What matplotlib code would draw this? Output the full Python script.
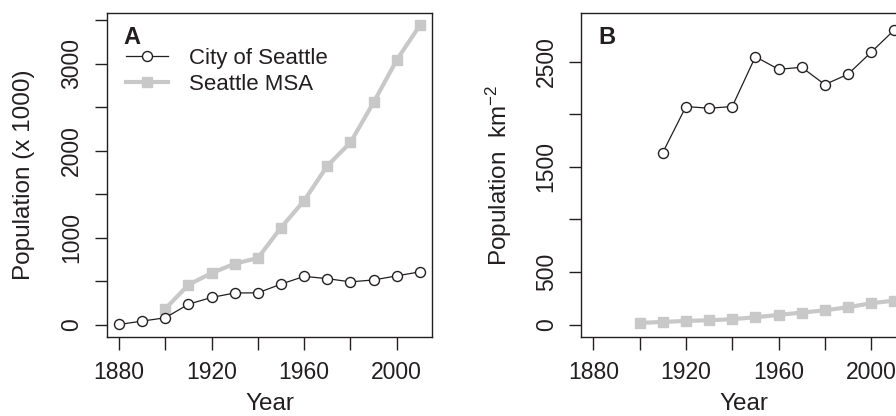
import matplotlib.pyplot as plt
import numpy as np

plt.rcParams['font.family'] = ['Liberation Sans', 'DejaVu Sans']
plt.rcParams['mathtext.fontset'] = 'custom'
plt.rcParams['mathtext.rm'] = 'Liberation Sans'
plt.rcParams['mathtext.it'] = 'Liberation Sans'
plt.rcParams['mathtext.default'] = 'regular'

# census years
years_city = [1880, 1890, 1900, 1910, 1920, 1930, 1940, 1950, 1960, 1970, 1980, 1990, 2000, 2010]
years_msa = [1900, 1910, 1920, 1930, 1940, 1950, 1960, 1970, 1980, 1990, 2000, 2010]

# panel A: population (x 1000)
pop_city = [4, 43, 81, 237, 315, 366, 368, 468, 557, 531, 494, 516, 563, 609]
pop_msa = [184, 461, 595, 703, 768, 1118, 1429, 1828, 2097, 2558, 3046, 3445]

# panel B: population density per km2
dens_years_city = [1910, 1920, 1930, 1940, 1950, 1960, 1970, 1980, 1990, 2000, 2010]
dens_city = [1636, 2073, 2057, 2073, 2547, 2427, 2446, 2282, 2380, 2589, 2801]
dens_msa = [16, 25, 35, 41, 51, 70, 92, 114, 136, 165, 203, 228]

ink = '#231f20'
grey = '#c8c8c8'
fs_tick = 16.5
fs_lab = 17.5
fs_leg = 16

fig = plt.figure(figsize=(8.96, 4.16), dpi=100)
axA = fig.add_axes([0.1194, 0.1899, 0.3627, 0.7788])
axB = fig.add_axes([0.6488, 0.1899, 0.3627, 0.7788])


def style(ax, yticks, ylabels):
    ax.set_xlim(1874.8, 2015.2)
    ax.set_xticks(range(1880, 2001, 20))
    ax.set_xticklabels(['1880', '', '1920', '', '1960', '', '2000'])
    ax.set_yticks(yticks)
    ax.set_yticklabels(ylabels, rotation=90, va='center')
    ax.tick_params(direction='out', length=9, width=1, color=ink,
                   labelsize=fs_tick, labelcolor=ink, pad=8)
    for s in ax.spines.values():
        s.set_color(ink)
        s.set_linewidth(1)
    ax.set_xlabel('Year', fontsize=fs_lab, color=ink, labelpad=6.5)


def draw(ax, ymsa, x_city, ycity):
    ax.plot(years_msa, ymsa, color=grey, lw=3, marker='s', ms=7.5,
            mec=grey, mfc=grey, zorder=2, label='Seattle MSA')
    ax.plot(x_city, ycity, color=ink, lw=0.9, marker='o', ms=7.2,
            mec=ink, mfc='white', mew=1, zorder=3, label='City of Seattle')


# panel A
draw(axA, pop_msa, years_city, pop_city)
axA.set_ylim(-140, 3585)
style(axA, np.arange(0, 3501, 500), ['0', '', '1000', '', '2000', '', '3000', ''])
axA.set_ylabel('Population (x 1000)', fontsize=fs_lab, color=ink, labelpad=18)
axA.text(0.052, 0.96, 'A', transform=axA.transAxes, fontsize=17, fontweight='bold',
         color=ink, va='top', ha='left')
h, l = axA.get_legend_handles_labels()
axA.legend(h[::-1], l[::-1], loc='upper left', bbox_to_anchor=(0.01, 0.94),
           frameon=False, fontsize=fs_leg, handlelength=1.9, handletextpad=0.95,
           labelspacing=0.22, borderaxespad=0.3, labelcolor=ink)

# panel B
draw(axB, dens_msa, dens_years_city, dens_city)
axB.set_ylim(-118, 2962)
style(axB, np.arange(0, 2501, 500), ['0', '500', '', '1500', '', '2500'])
axB.set_ylabel('Population  km$^{-2}$', fontsize=fs_lab, color=ink, labelpad=15)
axB.text(0.052, 0.96, 'B', transform=axB.transAxes, fontsize=17, fontweight='bold',
         color=ink, va='top', ha='left')

fig.savefig('out.png', dpi=100)
